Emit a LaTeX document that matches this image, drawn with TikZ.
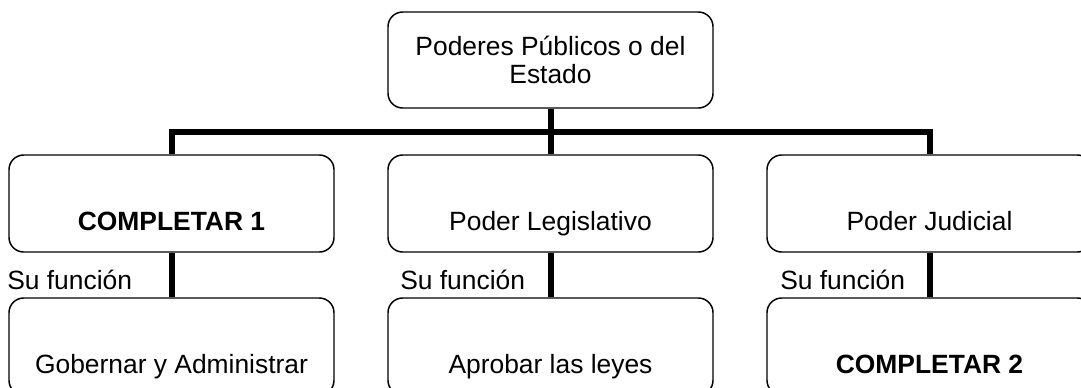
\documentclass[tikz,border=0pt]{standalone}
\usepackage{fontspec}
\setmainfont{Liberation Sans}

\begin{document}
\begin{tikzpicture}[x=0.75pt, y=-0.75pt,
    caja/.style={draw, line width=1.1pt, rounded corners=11pt, inner sep=0pt,
        minimum width=243.75pt, text height=56.25pt, text depth=16.5pt,
        font=\fontsize{19.8}{23}\selectfont},
    funcion/.style={anchor=west, inner sep=0pt, font=\fontsize{19.8}{23}\selectfont},
    enlace/.style={line width=4.5pt, line join=miter}]
    \path[fill=white, use as bounding box] (0,0) rectangle (1081,387);
    \clip (0,0) rectangle (1081,387);

    % caja superior
    \node[draw, line width=1.1pt, rounded corners=11pt, inner sep=0pt,
        minimum width=243.75pt, minimum height=72pt, align=center,
        font=\fontsize{19.8}{21}\selectfont] (estado) at (550.5,60)
        {Poderes Públicos o del\\Estado};

    % los tres poderes
    \node[caja] (ejecutivo)   at (171.5,203.5) {\bfseries COMPLETAR 1};
    \node[caja] (legislativo) at (550.5,203.5) {Poder Legislativo};
    \node[caja] (judicial)    at (929.5,203.5) {Poder Judicial};

    % sus funciones
    \node[caja] (gobernar) at (171.5,346.5) {Gobernar y Administrar};
    \node[caja] (aprobar)  at (550.5,346.5) {Aprobar las leyes};
    \node[caja] (juzgar)   at (929.5,346.5) {\bfseries COMPLETAR 2};

    \node[funcion] (fun1) at (7,280)   {Su función};
    \node[funcion] (fun2) at (400,280) {Su función};
    \node[funcion] (fun3) at (780,280) {Su función};

    % lineas de union
    \coordinate (bus) at (550.5,132);
    \draw[enlace] (estado.south) -- (bus);
    \draw[enlace] (ejecutivo.north) |- (bus) -| (judicial.north);
    \draw[enlace] (bus) -- (legislativo.north);

    \draw[enlace] (ejecutivo.south) -- (gobernar.north);
    \draw[enlace] (legislativo.south) -- (aprobar.north);
    \draw[enlace] (judicial.south) -- (juzgar.north);
\end{tikzpicture}
\end{document}
